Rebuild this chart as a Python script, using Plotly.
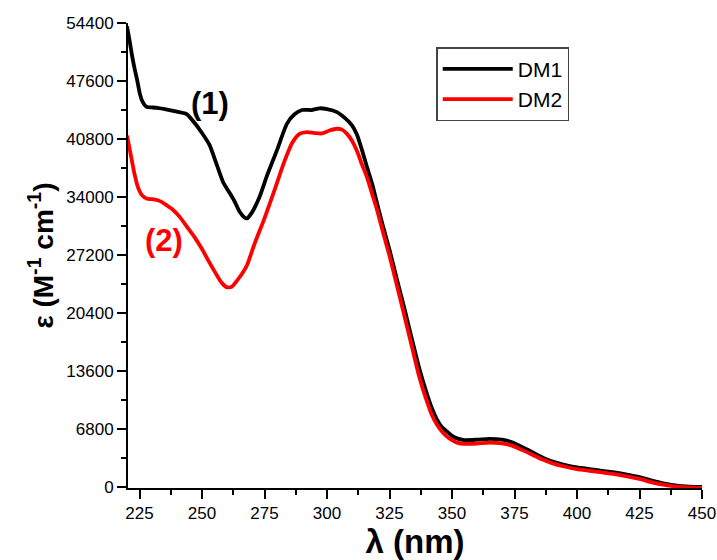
import plotly.graph_objects as go

# ---- data ----
wl_dm1 = [220, 221, 222, 223, 224, 225, 226, 227, 228, 230, 232, 236, 240, 244, 247, 250,
          253, 256, 258.5, 261, 263, 265, 267, 268, 270, 273, 276, 280, 284, 287, 290, 294,
          297, 300, 304, 307, 310, 312, 314, 316, 318, 320, 322, 325, 328, 331, 334, 337,
          340, 342, 344, 346, 348, 350, 352, 355, 360, 365, 370, 374, 378, 382, 386, 390,
          395, 400, 405, 410, 415, 420, 425, 430, 435, 440, 445, 450]
eps_dm1 = [54000, 52400, 50600, 49100, 47800, 46300, 45300, 44800, 44550, 44500, 44450, 44250,
           44000, 43700, 42700, 41500, 40100, 37700, 35700, 34500, 33500, 32300, 31600, 31500,
           32200, 34000, 36500, 39500, 42600, 43700, 44200, 44200, 44400, 44300, 43950, 43300,
           42400, 41300, 39500, 37500, 35600, 33300, 31000, 27800, 24300, 20900, 17300, 13800,
           10900, 9200, 7900, 7000, 6500, 6000, 5700, 5500, 5550, 5650, 5550, 5250, 4700, 4100,
           3500, 3000, 2600, 2300, 2100, 1900, 1700, 1450, 1150, 750, 400, 150, 50, 0]

wl_dm2 = [220, 221, 222, 223, 224, 225, 226, 228, 230, 232, 234, 236, 238, 241, 244, 247, 250,
          253, 256, 258, 260, 262, 264, 266, 268, 271, 275, 279, 283, 286, 289, 292, 295, 298,
          301, 304, 306, 308, 310, 312, 314, 316, 318, 320, 322, 325, 328, 331, 334, 337, 340,
          342, 344, 346, 348, 350, 352, 355, 360, 365, 370, 374, 378, 382, 386, 390, 395, 400,
          405, 410, 415, 420, 425, 430, 435, 440, 445, 450]
eps_dm2 = [41200, 39700, 38200, 36700, 35500, 34700, 34200, 33800, 33750, 33650, 33400, 33000,
           32600, 31700, 30500, 29300, 27900, 26300, 24800, 23900, 23400, 23500, 24200, 25000,
           26000, 28500, 31500, 34800, 38200, 40300, 41400, 41600, 41500, 41450, 41800, 42000,
           41900, 41400, 40600, 39400, 37800, 36300, 34400, 32500, 30300, 27100, 23600, 20000,
           16400, 12800, 10000, 8400, 7300, 6500, 5900, 5500, 5200, 5050, 5100, 5200, 5100,
           4850, 4350, 3800, 3250, 2800, 2400, 2100, 1900, 1700, 1500, 1250, 950, 550, 250,
           50, -50, -100]

x_ticks = [225, 250, 275, 300, 325, 350, 375, 400, 425, 450]
y_ticks = [0, 6800, 13600, 20400, 27200, 34000, 40800, 47600, 54400]
series_names = ["DM1", "DM2"]
series_colors = ["#000000", "#ff0000"]
curve_labels = ["(1)", "(2)"]
label_pos = [(253.3, 45000), (234.9, 28900)]

FONT = "Liberation Sans, Arial, sans-serif"

fig = go.Figure()
for name, color, wl, eps in zip(series_names, series_colors,
                                 [wl_dm1, wl_dm2], [eps_dm1, eps_dm2]):
    fig.add_trace(go.Scatter(x=wl, y=eps, mode="lines", name=name,
                             line=dict(color=color, width=3.8, shape="spline",
                                       smoothing=0.6)))

for text, color, (lx, ly) in zip(curve_labels, series_colors, label_pos):
    fig.add_annotation(x=lx, y=ly, text="<b>%s</b>" % text, showarrow=False,
                       font=dict(family=FONT, size=31, color=color),
                       xanchor="center", yanchor="middle")

axis_common = dict(showline=True, linecolor="black", linewidth=2, ticks="outside",
                   tickcolor="black", tickwidth=1.5, ticklen=9, showgrid=False,
                   zeroline=False, mirror=False,
                   tickfont=dict(family=FONT, size=17, color="black"))

fig.update_xaxes(range=[220.4, 450], tickmode="array", tickvals=x_ticks,
                 ticktext=[str(v) for v in x_ticks],
                 title=dict(text="<b>λ (nm)</b>",
                            font=dict(family=FONT, size=33, color="black"), standoff=3),
                 minor=dict(ticks="outside", ticklen=5, tickcolor="black",
                            tickwidth=1.5, dtick=12.5, tick0=225, showgrid=False),
                 **axis_common)
fig.update_yaxes(range=[-120, 54400], tickmode="array", tickvals=y_ticks,
                 ticktext=[str(v) for v in y_ticks],
                 title=dict(text="<b>ε (M<sup>-1</sup> cm<sup>-1</sup>)</b>",
                            font=dict(family=FONT, size=28, color="black"), standoff=5),
                 minor=dict(ticks="outside", ticklen=5, tickcolor="black",
                            tickwidth=1.5, dtick=3400, tick0=0, showgrid=False),
                 **axis_common)

fig.update_layout(
    width=717, height=560,
    margin=dict(l=127.7, r=15.3, t=22.5, b=71.7, autoexpand=False),
    paper_bgcolor="white", plot_bgcolor="white",
    font=dict(family=FONT, color="black"),
    legend=dict(x=0.537, y=0.948, xanchor="left", yanchor="top",
                bordercolor="#444444", borderwidth=1.5, bgcolor="white",
                font=dict(family=FONT, size=21, color="black"),
                itemwidth=70, tracegroupgap=0),
)

# remove the page's default body margin / scrollbars so the figure fills the window
fig.write_html("out.html",
               config={"displayModeBar": False},
               post_script="document.body.style.margin='0';"
                           "document.body.style.overflow='hidden';")
